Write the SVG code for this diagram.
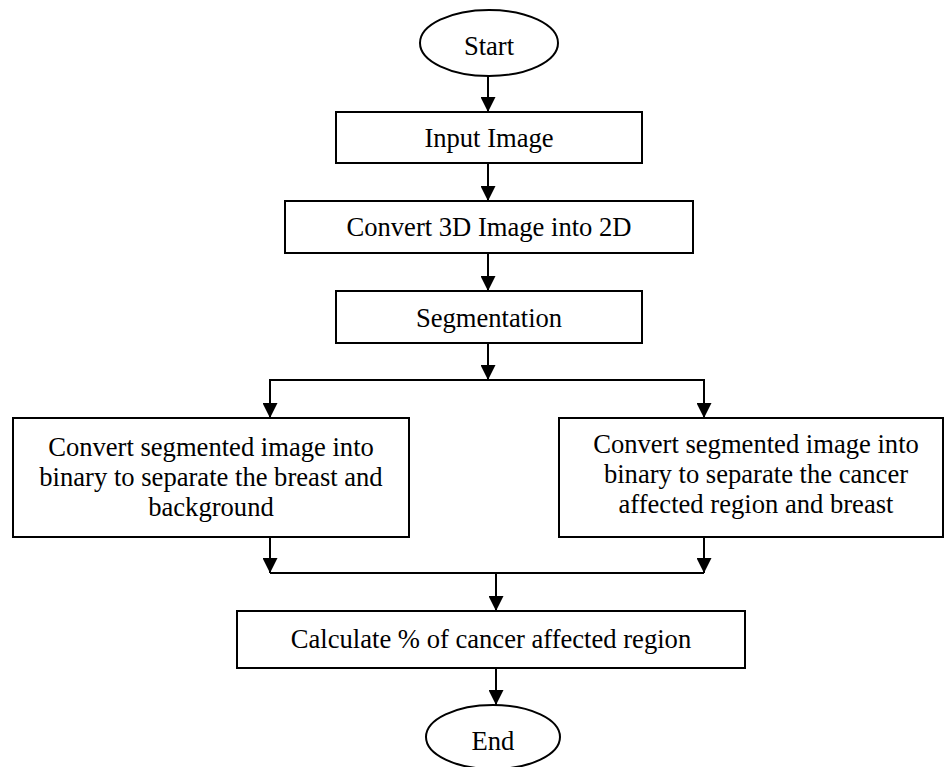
<svg xmlns="http://www.w3.org/2000/svg" width="944" height="767" viewBox="0 0 944 767">
<defs>
<marker id="ah" markerWidth="15" markerHeight="15" refX="15" refY="7.5" orient="auto" markerUnits="userSpaceOnUse">
<path d="M0,0 L15,7.5 L0,15 Z" fill="#000"/>
</marker>
<style>
.box{fill:#fff;stroke:#000;stroke-width:2}
.t{font-family:"Liberation Serif","Times New Roman",serif;font-size:26.6px;fill:#000;text-anchor:middle}
.c{fill:none;stroke:#000;stroke-width:2}
</style>
</defs>
<rect width="944" height="767" fill="#fff"/>
<g id="connectors">
<line class="c" x1="488" y1="76" x2="488" y2="112" marker-end="url(#ah)"/>
<line class="c" x1="488" y1="163" x2="488" y2="201" marker-end="url(#ah)"/>
<line class="c" x1="488" y1="253" x2="488" y2="291" marker-end="url(#ah)"/>
<line class="c" x1="488" y1="343" x2="488" y2="380" marker-end="url(#ah)"/>
<polyline class="c" points="270,418 270,380 704,380 704,418"/>
<line class="c" x1="270" y1="380" x2="270" y2="418" marker-end="url(#ah)"/>
<line class="c" x1="704" y1="380" x2="704" y2="418" marker-end="url(#ah)"/>
<line class="c" x1="270" y1="537" x2="270" y2="573" marker-end="url(#ah)"/>
<line class="c" x1="704" y1="537" x2="704" y2="573" marker-end="url(#ah)"/>
<line class="c" x1="270" y1="573" x2="704" y2="573"/>
<line class="c" x1="496" y1="573" x2="496" y2="611" marker-end="url(#ah)"/>
<line class="c" x1="496" y1="668" x2="496" y2="705" marker-end="url(#ah)"/>
</g>
<g id="start">
<ellipse class="box" cx="489" cy="43" rx="69" ry="33"/>
<text class="t" x="489" y="55">Start</text>
</g>
<g id="input">
<rect class="box" x="336" y="112" width="306" height="51"/>
<text class="t" x="489" y="147">Input Image</text>
</g>
<g id="convert3d">
<rect class="box" x="285" y="201" width="408" height="52"/>
<text class="t" x="489" y="236">Convert 3D Image into 2D</text>
</g>
<g id="segmentation">
<rect class="box" x="336" y="291" width="306" height="52"/>
<text class="t" x="489" y="327">Segmentation</text>
</g>
<g id="binary-left">
<rect class="box" x="13" y="418" width="396" height="119"/>
<text class="t" x="211" y="456">Convert segmented image into</text>
<text class="t" x="211" y="486">binary to separate the breast and</text>
<text class="t" x="211" y="516">background</text>
</g>
<g id="binary-right">
<rect class="box" x="559" y="418" width="384" height="119"/>
<text class="t" x="756" y="453">Convert segmented image into</text>
<text class="t" x="756" y="483">binary to separate the cancer</text>
<text class="t" x="756" y="513">affected region and breast</text>
</g>
<g id="calculate">
<rect class="box" x="237" y="611" width="508" height="57"/>
<text class="t" x="491" y="648">Calculate % of cancer affected region</text>
</g>
<g id="end">
<ellipse class="box" cx="493" cy="737" rx="67" ry="32"/>
<text class="t" x="493" y="750">End</text>
</g>
</svg>
